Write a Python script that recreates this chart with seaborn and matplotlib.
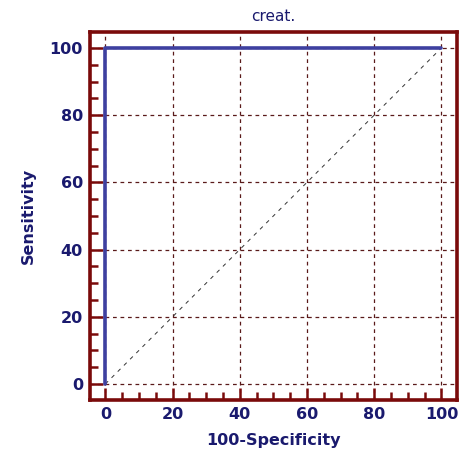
import pandas as pd
import seaborn as sns
import matplotlib.pyplot as plt
from matplotlib.ticker import MultipleLocator

# ROC curve points for "creat."
fpr = [0, 0, 100]          # 100-Specificity
tpr = [0, 100, 100]        # Sensitivity
ref_x = [0, 100]
ref_y = [0, 100]

df = pd.DataFrame({"100-Specificity": fpr, "Sensitivity": tpr})

navy = "#1a1a6e"
frame = "#7a0a0a"

sns.set_style("white")
fig = plt.figure(figsize=(4.61, 4.59), dpi=100)
ax = fig.add_axes([0.195, 0.129, 0.796, 0.801])

ax.set_xlim(-4.6, 104.6)
ax.set_ylim(-4.7, 104.7)

ax.xaxis.set_major_locator(MultipleLocator(20))
ax.yaxis.set_major_locator(MultipleLocator(20))
ax.xaxis.set_minor_locator(MultipleLocator(5))
ax.yaxis.set_minor_locator(MultipleLocator(5))

ax.grid(True, which="major", color="#5a1a1a", linestyle=(0, (3, 3)), linewidth=0.9)

sns.lineplot(data=pd.DataFrame({"x": ref_x, "y": ref_y}), x="x", y="y",
             ax=ax, color="#333333", linestyle=(0, (4, 5)), linewidth=0.7)
sns.lineplot(data=df, x="100-Specificity", y="Sensitivity", ax=ax,
             color="#3e40a0", linewidth=2.6, sort=False, estimator=None)

for s in ax.spines.values():
    s.set_color(frame)
    s.set_linewidth(2.6)
    s.set_visible(True)

ax.tick_params(which="both", direction="in", color=frame, top=False, right=False,
               left=True, bottom=True)
ax.tick_params(which="major", length=9, width=1.8, labelsize=11.5,
               labelcolor=navy, pad=5)
ax.tick_params(which="minor", length=5.5, width=1.8)
for lab in ax.get_xticklabels() + ax.get_yticklabels():
    lab.set_fontweight("bold")

ax.set_xlabel("100-Specificity", fontsize=11.5, fontweight="bold", color=navy, labelpad=8)
ax.set_ylabel("Sensitivity", fontsize=11.5, fontweight="bold", color=navy, labelpad=10)
ax.set_title("creat.", fontsize=11, color=navy, pad=8)

fig.savefig("out.png", dpi=100)
